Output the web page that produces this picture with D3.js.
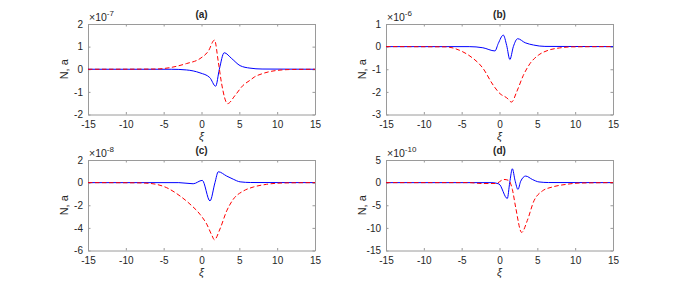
<!DOCTYPE html>
<html lang="en">
<head>
<meta charset="UTF-8">
<title>N, a vs xi</title>
<script src="https://d3js.org/d3.v7.min.js"></script>
<style>
  body { margin: 0; background: #fff; }
  text { font-family: "Liberation Sans", Arial, sans-serif; fill: #262626; }
</style>
</head>
<body>
<script>
// x axis is shared by all four panels
var xTicks = [-15, -10, -5, 0, 5, 10, 15];

var titles = ["(a)", "(b)", "(c)", "(d)"];
var exponents = ["-7", "-6", "-8", "-10"];
var yTicksA = [-2, -1, 0, 1, 2];
var yTicksB = [-3, -2, -1, 0, 1];
var yTicksC = [-6, -4, -2, 0, 2];
var yTicksD = [-15, -10, -5, 0, 5];

// [xi, value] in units of the panel's exponent
var nA = [[-15, 0], [-4, 0], [-2, -0.03], [-0.2, -0.16], [1.1, -0.37], [1.87, -0.75],
  [2.36, 0], [3.0, 0.73], [4.0, 0.47], [5.1, 0.16], [6.4, 0.05], [8, 0.01], [15, 0]];
var aA = [[-15, 0], [-6, 0.01], [-4.2, 0.07], [-2, 0.25], [-0.2, 0.47], [0.9, 0.8],
  [1.72, 1.29], [2.22, 0.33], [2.66, -0.64], [3.45, -1.52], [4.43, -1.16], [5.5, -0.71],
  [6.4, -0.49], [7, -0.34], [8, -0.2], [10, -0.05], [12, -0.01], [15, 0]];

var nB = [[-15, 0], [-4, 0], [-2.2, -0.05], [-0.6, -0.19], [-0.16, 0.14], [0.5, 0.51],
  [0.95, 0.05], [1.37, -0.57], [1.83, 0], [2.4, 0.35], [3.4, 0.17], [4.5, 0.07],
  [6, 0.01], [15, 0]];
var aB = [[-15, 0], [-7.1, -0.01], [-5.3, -0.16], [-3.9, -0.42], [-2.2, -0.95],
  [-0.82, -1.71], [0.07, -2.08], [0.95, -2.26], [1.6, -2.45], [2.27, -2.0],
  [3.15, -1.27], [4.03, -0.75], [5.13, -0.38], [6.45, -0.16], [7.9, -0.06],
  [9.6, -0.01], [15, 0]];

var nC = [[-15, 0], [-3, 0], [-1.1, -0.1], [0.1, 0.2], [1.12, -1.62], [1.78, 0],
  [2.22, 0.96], [3.33, 0.58], [4.2, 0.3], [5.1, 0.07], [6.5, 0.01], [15, 0]];
var aC = [[-15, 0], [-8.5, -0.02], [-6.8, -0.07], [-4.6, -0.45], [-2.84, -1.18],
  [-1.52, -1.9], [-0.2, -2.8], [0.69, -3.67], [1.4, -4.7], [1.7, -5.05], [2.44, -4.1],
  [3.33, -2.5], [4.2, -1.47], [5.53, -0.74], [6.85, -0.39], [8.6, -0.15],
  [10.8, -0.03], [15, 0]];

var nD = [[-15, 0], [-1, 0], [-0.07, -0.3], [1.03, -3.5], [1.35, 0], [1.7, 3.06],
  [2.05, 0.5], [2.44, -1.5], [2.8, 0.3], [3.46, 1.45], [4.34, 0.7], [5.22, 0.15],
  [6.5, 0.02], [15, 0]];
var aD = [[-15, 0], [-4, 0], [-2.3, -0.2], [-0.5, -0.2], [0.59, 0.7], [1.2, 0.5],
  [1.7, -1.5], [2.14, -5.5], [2.93, -11.0], [3.67, -8.4], [4.56, -4.0], [5.66, -1.85],
  [6.98, -0.97], [8.75, -0.4], [10.5, -0.1], [15, 0]];

var panels = [
  { title: titles[0], exp: exponents[0], yTicks: yTicksA, n: nA, a: aA, x0: 88, y0: 24 },
  { title: titles[1], exp: exponents[1], yTicks: yTicksB, n: nB, a: aB, x0: 386, y0: 24 },
  { title: titles[2], exp: exponents[2], yTicks: yTicksC, n: nC, a: aC, x0: 88, y0: 160 },
  { title: titles[3], exp: exponents[3], yTicks: yTicksD, n: nD, a: aD, x0: 386, y0: 160 }
];

var W = 227, H = 90.5;
var svg = d3.select("body").append("svg")
  .attr("width", 678).attr("height", 288);

function styleAxis(sel, keepText) {
  sel.select(".domain").attr("stroke", "#9a9a9a").attr("stroke-width", 1);
  sel.selectAll(".tick line").attr("stroke", "#9a9a9a");
  if (keepText) {
    sel.selectAll(".tick text")
      .attr("font-family", "Liberation Sans, Arial, sans-serif")
      .attr("font-size", 10).attr("fill", "#262626");
  } else {
    sel.selectAll(".tick text").remove();
  }
}

panels.forEach(function(p) {
  var g = svg.append("g").attr("transform", "translate(" + p.x0 + "," + p.y0 + ")");
  var x = d3.scaleLinear().domain([-15, 15]).range([0, W]);
  var y = d3.scaleLinear().domain(d3.extent(p.yTicks)).range([H, 0]);

  var line = d3.line()
    .x(function(d) { return x(d[0]); })
    .y(function(d) { return y(d[1]); })
    .curve(d3.curveMonotoneX);

  // box with inward ticks, MATLAB style
  g.append("g").attr("transform", "translate(0," + H + ")")
    .call(d3.axisBottom(x).tickValues(xTicks).tickSizeInner(-2.5).tickSizeOuter(0).tickPadding(6).tickFormat(d3.format("d")))
    .call(styleAxis, true);
  g.append("g")
    .call(d3.axisTop(x).tickValues(xTicks).tickSizeInner(-2.5).tickSizeOuter(0))
    .call(styleAxis, false);
  g.append("g")
    .call(d3.axisLeft(y).tickValues(p.yTicks).tickSizeInner(-2.5).tickSizeOuter(0).tickPadding(5).tickFormat(d3.format("d")))
    .call(styleAxis, true);
  g.append("g").attr("transform", "translate(" + W + ",0)")
    .call(d3.axisRight(y).tickValues(p.yTicks).tickSizeInner(-2.5).tickSizeOuter(0))
    .call(styleAxis, false);

  // d3.format uses a unicode minus; MATLAB shows a plain hyphen
  g.selectAll(".tick text").text(function() { return this.textContent.replace("\u2212", "-"); });

  g.append("path").datum(p.n)
    .attr("fill", "none").attr("stroke", "#0000ff").attr("stroke-width", 1)
    .attr("d", line);
  g.append("path").datum(p.a)
    .attr("fill", "none").attr("stroke", "#ff0000").attr("stroke-width", 1)
    .attr("stroke-dasharray", "4.5,2.5")
    .attr("d", line);

  // title
  g.append("text").attr("x", W / 2).attr("y", -6)
    .attr("text-anchor", "middle").attr("font-weight", "bold").attr("font-size", 10)
    .text(p.title);

  // exponent
  var ex = g.append("text").attr("x", 1).attr("y", -3).attr("font-size", 10.5);
  ex.append("tspan").text("\u00d710");
  ex.append("tspan").attr("dy", -5).attr("font-size", 8).text(p.exp);

  // axis labels
  g.append("text").attr("x", W / 2).attr("y", H + 25)
    .attr("text-anchor", "middle").attr("font-style", "italic").attr("font-size", 11)
    .text("\u03be");
  g.append("text")
    .attr("transform", "translate(-20," + (H / 2) + ") rotate(-90)")
    .attr("text-anchor", "middle").attr("font-size", 11)
    .text("N, a");
});
</script>
</body>
</html>
